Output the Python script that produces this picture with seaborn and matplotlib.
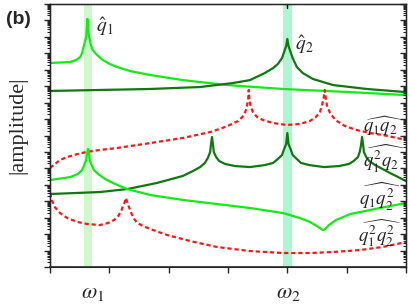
import numpy as np
import pandas as pd
import matplotlib
matplotlib.use("Agg")
import matplotlib.pyplot as plt
import seaborn as sns
from matplotlib.ticker import LogLocator, NullFormatter, FixedLocator

# ---------------- data (x in frequency units, y as log10|amplitude|) ----------------
q1_x = [0.00, 0.34, 0.44, 0.51, 0.54, 0.57, 0.61, 0.62, 0.63, 0.64, 0.66, 0.69, 0.72, 0.79, 0.89,
        1.01, 1.13, 1.35, 1.69, 2.24, 2.98, 3.93, 5.06, 6.00]
q1_y = [12.41, 12.47, 12.59, 12.77, 13.02, 13.44, 13.99, 14.54, 15.09, 14.54, 13.99, 13.50, 13.20, 12.90, 12.59,
        12.35, 12.17, 11.92, 11.68, 11.37, 11.07, 10.83, 10.64, 10.46]

q2_x = [0.00, 0.84, 1.69, 2.53, 3.08, 3.37, 3.62, 3.76, 3.84, 3.91, 3.94, 3.98, 4.00, 4.02, 4.06, 4.09,
        4.16, 4.26, 4.43, 4.77, 5.34, 6.00]
q2_y = [10.71, 10.77, 10.83, 10.95, 11.19, 11.37, 11.80, 12.10, 12.35, 12.71, 13.02, 13.44, 13.87, 13.44,
        13.02, 12.71, 12.17, 11.80, 11.44, 11.07, 10.83, 10.64]

q1q2_x = [0.00, 0.08, 0.17, 0.29, 0.46, 0.62, 0.84, 1.13, 1.69, 2.24, 2.70, 2.90, 3.03, 3.17, 3.24, 3.29,
          3.32, 3.34, 3.35, 3.36, 3.38, 3.42, 3.49, 3.59, 3.76, 3.99, 4.21, 4.38, 4.48, 4.55, 4.58, 4.61,
          4.63, 4.65, 4.67, 4.72, 4.81, 4.97, 5.17, 5.39, 5.61, 6.00]
q1q2_y = [6.02, 6.26, 6.51, 6.69, 6.87, 7.00, 7.12, 7.24, 7.54, 7.85, 8.21, 8.45, 8.64, 8.88, 9.12, 9.43,
          9.79, 10.22, 10.77, 10.22, 9.79, 9.43, 9.12, 8.94, 8.76, 8.64, 8.70, 8.88, 9.12, 9.43, 9.79, 10.22,
          10.77, 10.22, 9.79, 9.37, 8.94, 8.58, 8.33, 8.15, 8.03, 7.73]

q1sq_q2_x = [0.00, 0.84, 1.30, 1.80, 2.24, 2.41, 2.53, 2.61, 2.66, 2.70, 2.71, 2.73, 2.75, 2.76, 2.80,
             2.85, 2.95, 3.12, 3.37, 3.62, 3.76, 3.84, 3.91, 3.94, 3.98, 4.00, 4.02, 4.06, 4.09, 4.16,
             4.23, 4.37, 4.62, 4.87, 5.04, 5.12, 5.19, 5.22, 5.24, 5.26, 5.28, 5.29, 5.33, 5.38, 5.48,
             5.73, 6.00]
q1sq_q2_y = [4.44, 4.56, 4.74, 5.11, 5.54, 5.84, 6.08, 6.33, 6.63, 7.00, 7.36, 7.91, 7.36, 7.00, 6.69,
             6.45, 6.27, 6.14, 6.08, 6.20, 6.33, 6.57, 6.81, 7.12, 7.48, 8.15, 7.48, 7.12, 6.81, 6.57,
             6.33, 6.20, 6.08, 6.14, 6.27, 6.45, 6.69, 7.00, 7.36, 7.91, 7.36, 7.00, 6.69, 6.45, 6.20,
             5.72, 5.23]

q1_q2sq_x = [0.00, 0.34, 0.47, 0.54, 0.57, 0.61, 0.62, 0.64, 0.66, 0.67, 0.71, 0.74, 0.81, 0.93, 1.06,
             1.30, 1.69, 2.24, 3.37, 3.93, 4.21, 4.38, 4.50, 4.57, 4.60, 4.64, 4.70, 4.82, 5.06, 5.56, 6.00]
q1_q2sq_y = [5.29, 5.47, 5.66, 5.90, 6.14, 6.51, 6.81, 7.18, 6.81, 6.51, 6.14, 5.90, 5.66, 5.35, 5.11,
             4.74, 4.38, 4.08, 3.59, 3.28, 2.98, 2.74, 2.49, 2.31, 2.25, 2.31, 2.55, 2.86, 3.22, 3.59, 3.89]

q1sq_q2sq_x = [0.00, 0.03, 0.08, 0.17, 0.29, 0.46, 0.62, 0.84, 0.98, 1.08, 1.15, 1.20, 1.23, 1.26, 1.28,
               1.30, 1.33, 1.37, 1.42, 1.47, 1.57, 1.69, 1.97, 2.36, 2.81, 3.37, 3.93, 4.38, 4.77, 5.22,
               5.61, 6.00]
q1sq_q2sq_y = [4.50, 4.08, 3.65, 3.28, 2.98, 2.74, 2.62, 2.55, 2.68, 2.86, 3.10, 3.41, 3.71, 3.95, 4.20,
               3.95, 3.65, 3.28, 2.92, 2.68, 2.49, 2.31, 1.95, 1.58, 1.22, 0.97, 0.85, 0.85, 0.91, 1.03,
               1.22, 1.52]

omega1 = 0.64
omega2 = 4.00
x_ticks = [0, 1, 2, 3, 4, 5, 6]

# ---------------- figure ----------------
sns.set_style("white")
plt.rcParams["mathtext.fontset"] = "stix"
plt.rcParams["font.family"] = ["Liberation Serif", "DejaVu Serif"]

fig = plt.figure(figsize=(4.09, 3.04), dpi=100)
ax = fig.add_axes([50 / 409, 1 - 267 / 304, 356 / 409, 263 / 304])

bright = "#14ea14"
dark = "#117711"
red = "#ff1414"
lw = 1.6
dash = (1.9, 1.3)

ax.axvspan(omega1 - 0.075, omega1 + 0.075, color="#cdf9cd", lw=0, zorder=0)
ax.axvspan(omega2 - 0.08, omega2 + 0.08, color="#aef5d2", lw=0, zorder=0)

def draw(xs, ys, color, dashed=False):
    df = pd.DataFrame({"x": xs, "y": np.power(10.0, ys)})
    kw = {"linestyle": (0, dash)} if dashed else {}
    sns.lineplot(data=df, x="x", y="y", ax=ax, color=color, lw=lw, sort=False,
                 estimator=None, legend=False, **kw)

draw(q1_x, q1_y, bright)
draw(q2_x, q2_y, dark)
draw(q1q2_x, q1q2_y, red, dashed=True)
draw(q1sq_q2_x, q1sq_q2_y, dark)
draw(q1_q2sq_x, q1_q2sq_y, bright)
draw(q1sq_q2sq_x, q1sq_q2sq_y, red, dashed=True)
for line in ax.get_lines():
    line.set_solid_joinstyle("round")
    line.set_dash_joinstyle("round")

ax.set_yscale("log")
ax.set_xlim(0, 6)
ax.set_ylim(1, 1e16)
ax.set_xlabel("")
ax.set_ylabel("")

ax.xaxis.set_major_locator(FixedLocator(x_ticks))
ax.set_xticklabels([])
ax.yaxis.set_major_locator(LogLocator(base=10, numticks=40))
ax.yaxis.set_minor_locator(LogLocator(base=10, subs=np.arange(2, 10), numticks=40))
ax.yaxis.set_major_formatter(NullFormatter())
ax.yaxis.set_minor_formatter(NullFormatter())

ax.tick_params(axis="x", which="major", direction="out", length=4, width=1, bottom=True, top=False)
ax.tick_params(axis="y", which="major", direction="out", length=4.5, width=1, left=True, right=False)
ax.tick_params(axis="y", which="minor", direction="out", length=2.5, width=0.8, left=True, right=False)

# right-hand inward ticks
axr = ax.twinx()
axr.set_yscale("log")
axr.set_ylim(1, 1e16)
axr.yaxis.set_major_locator(LogLocator(base=10, numticks=40))
axr.yaxis.set_minor_locator(LogLocator(base=10, subs=np.arange(2, 10), numticks=40))
axr.yaxis.set_major_formatter(NullFormatter())
axr.yaxis.set_minor_formatter(NullFormatter())
axr.tick_params(axis="y", which="major", direction="in", length=4.5, width=1)
axr.tick_params(axis="y", which="minor", direction="in", length=2.5, width=0.8)
axr.grid(False)

for s in ["left", "right", "top"]:
    ax.spines[s].set_color("black")
    ax.spines[s].set_linewidth(1.0)
ax.spines["bottom"].set_color("#444444")
ax.spines["bottom"].set_linewidth(1.4)
ax.grid(False)

# small tick at top at omega2
ax.plot([omega2, omega2], [10 ** 15.75, 1e16], color="black", lw=1, clip_on=False)

# omega labels
trans = ax.get_xaxis_transform()
ax.text(omega1 + 0.08, -0.10, r"$\omega_1$", transform=trans, ha="center", va="center", fontsize=16)
ax.text(omega2 + 0.02, -0.10, r"$\omega_2$", transform=trans, ha="center", va="center", fontsize=16)

# curve labels
lab = dict(fontsize=14, ha="center", va="center")
ax.text(0.93, 10 ** 14.6, r"$\hat{q}_{\mathit{1}}$", **lab)
ax.text(4.28, 10 ** 13.55, r"$\hat{q}_{\mathit{2}}$", **lab)
lab2 = dict(fontsize=13.5, ha="center", va="center")
ax.text(5.61, 10 ** 8.55, r"$\widehat{q_{\mathit{1}}q_{\mathit{2}}}$", **lab2)
ax.text(5.62, 10 ** 6.6, r"$\widehat{q_{\mathit{1}}^{\mathit{2}}q_{\mathit{2}}}$", **lab2)
ax.text(5.56, 10 ** 4.25, r"$\widehat{q_{\mathit{1}}q_{\mathit{2}}^{\mathit{2}}}$", **lab2)
ax.text(5.56, 10 ** 2.05, r"$\widehat{q_{\mathit{1}}^{\mathit{2}}q_{\mathit{2}}^{\mathit{2}}}$", **lab2)

fig.text(18 / 409, 1 - 125 / 304, "|amplitude|", rotation=90, ha="center", va="center",
         fontsize=16, family=["Liberation Serif", "DejaVu Serif"])
fig.text(6 / 409, 1 - 20 / 304, "(b)", ha="left", va="center", fontsize=14,
         fontweight="bold", family=["Liberation Sans", "DejaVu Sans"])

fig.savefig("out.png", dpi=100)
